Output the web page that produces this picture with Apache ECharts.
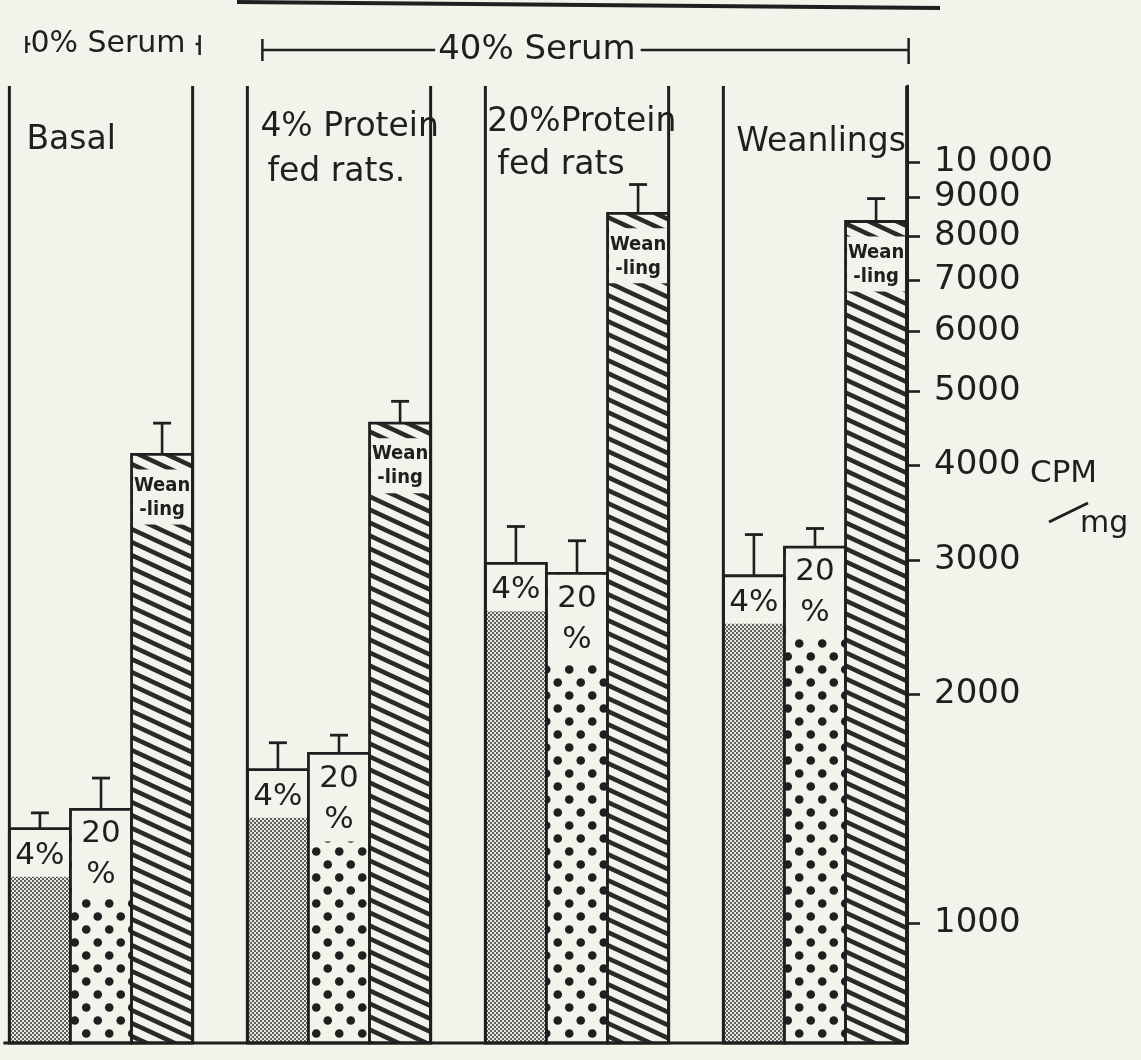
<!DOCTYPE html>
<html>
<head>
<meta charset="utf-8">
<title>CPM/mg by diet and serum</title>
<script src="https://cdn.jsdelivr.net/npm/echarts@6/dist/echarts.min.js"></script>
<style>
  html, body { margin: 0; padding: 0; background: #f3f2eb; }
  #chart { width: 1141px; height: 1060px; }
</style>
</head>
<body>
<div id="chart"></div>
<script>
// ---- data -------------------------------------------------------------
const groups = ['Basal', '4% Protein\nfed rats.', '20%Protein\nfed rats', 'Weanlings'];
const serumBrackets = ['0% Serum', '40% Serum'];

// mean CPM/mg for each diet type, one value per group
const protein4 = [1330, 1590, 2970, 2860];
const protein20 = [1410, 1670, 2880, 3120];
const weanling = [4130, 4540, 8570, 8360];

// upper error (SE) of each bar
const protein4Err = [65, 135, 350, 380];
const protein20Err = [140, 95, 300, 180];
const weanlingErr = [410, 310, 780, 600];

// captions written inside the bars
const barCaptions = [['4%'], ['20', '%'], ['Wean', '-ling']];

// right-hand axis
const tickValues = [1000, 2000, 3000, 4000, 5000, 6000, 7000, 8000, 9000, 10000];
const tickLabels = ['1000', '2000', '3000', '4000', '5000', '6000', '7000', '8000', '9000', '10 000'];
const axisTitle = ['CPM', 'mg'];

// ---- styling ----------------------------------------------------------
const INK = '#1f1f1f';
const PAPER = '#f3f2eb';
const FONT = '"DejaVu Sans", "Liberation Sans", sans-serif';
const NARROW = '"Liberation Sans Narrow", "DejaVu Sans Condensed", sans-serif';
const Y_MIN = 695;
const Y_MAX = 12600;
const X_MIN = -0.4244;   // group index range shown on the horizontal axis
const X_MAX = 3.5;
const BOX_FRAC = 0.77;   // share of one group step taken by a group's box

// label placement inside each group box (offsets from box left / box top)
const GROUP_LABEL_LAYOUT = [
  { dx: [17], dy: [54] },
  { dx: [13, 20], dy: [41, 86] },
  { dx: [2, 12], dy: [36, 79] },
  { dx: [13], dy: [56] }
];
// caption patch and text rows for each bar kind (offsets from bar top)
const CAPTION_LAYOUT = [
  { patchTop: 1, patchBottom: 48, rows: [27], font: '31px ' + FONT },
  { patchTop: 1, patchBottom: 88, rows: [25, 66], font: '31px ' + FONT },
  { patchTop: 15, patchBottom: 70, rows: [31, 55], font: 'bold 20px ' + NARROW }
];

// ---- fill patterns ----------------------------------------------------
function makePattern(w, h, bg, draw) {
  const c = document.createElement('canvas');
  c.width = w; c.height = h;
  const ctx = c.getContext('2d');
  ctx.fillStyle = bg;
  ctx.fillRect(0, 0, w, h);
  draw(ctx, w, h);
  return { image: c, repeat: 'repeat' };
}
function dot(ctx, x, y, r, color) {
  ctx.fillStyle = color;
  ctx.beginPath();
  ctx.arc(x, y, r, 0, Math.PI * 2);
  ctx.fill();
}
// fine stipple for the 4% protein bars
const stipple = makePattern(4, 4, '#e6e5de', (ctx) => {
  dot(ctx, 1, 1, 1.0, '#333');
  dot(ctx, 3, 3, 1.0, '#333');
});
// large polka dots for the 20% protein bars
const polka = makePattern(23, 26, PAPER, (ctx) => {
  dot(ctx, 5.75, 6.5, 4.3, '#1f1f1f');
  dot(ctx, 17.25, 19.5, 4.3, '#1f1f1f');
});
// diagonal hatching for the weanling bars
const hatch = makePattern(28, 13, PAPER, (ctx, w, h) => {
  ctx.strokeStyle = '#2a2a2a';
  ctx.lineWidth = 4.6;
  for (let k = -1; k <= 1; k++) {
    ctx.beginPath();
    ctx.moveTo(-w, k * h - h);
    ctx.lineTo(2 * w, k * h + 2 * h);
    ctx.stroke();
  }
});

const measureCtx = document.createElement('canvas').getContext('2d');
function textWidth(t, font) {
  measureCtx.font = font;
  return measureCtx.measureText(t).width;
}

function textEl(text, x, y, font, align, vAlign) {
  return {
    type: 'text',
    style: {
      text: text, x: x, y: y, font: font, fill: INK,
      align: align, verticalAlign: vAlign,
      textAlign: align, textVerticalAlign: vAlign
    }
  };
}
function lineEl(x1, y1, x2, y2, w) {
  return { type: 'line', shape: { x1: x1, y1: y1, x2: x2, y2: y2 }, style: { stroke: INK, lineWidth: w, lineCap: 'butt' } };
}

// geometry of a group's box, derived from the axes
function boxGeom(api, gi) {
  const step = api.size([1, 0])[0];
  const w = step * BOX_FRAC;
  const bottom = api.coord([gi, Y_MIN]);
  return {
    left: bottom[0] - w / 2,
    right: bottom[0] + w / 2,
    width: w,
    base: bottom[1],
    top: api.coord([gi, Y_MAX])[1]
  };
}

// ---- bar series -------------------------------------------------------
function barSeries(name, slot, values, errs, fill) {
  return {
    type: 'custom',
    name: name,
    z: 2,
    encode: { x: 0, y: 1 },
    data: values.map((v, i) => [i, v, errs[i]]),
    renderItem: function (params, api) {
      const gi = api.value(0);
      const v = api.value(1);
      const e = api.value(2);
      const box = boxGeom(api, gi);
      const bw = box.width / 3;
      const x0 = box.left + slot * bw;
      const cx = x0 + bw / 2;
      const top = api.coord([gi, v])[1];
      const errY = api.coord([gi, v + e])[1];
      const lay = CAPTION_LAYOUT[slot];
      const children = [
        { type: 'rect', shape: { x: x0, y: top, width: bw, height: box.base - top }, style: { fill: fill } },
        { type: 'rect', shape: { x: x0 + 1.5, y: top + lay.patchTop, width: bw - 3, height: lay.patchBottom - lay.patchTop }, style: { fill: PAPER } }
      ];
      barCaptions[slot].forEach((t, k) => {
        children.push(textEl(t, cx, top + lay.rows[k], lay.font, 'center', 'middle'));
      });
      children.push({ type: 'rect', shape: { x: x0, y: top, width: bw, height: box.base - top }, style: { fill: 'none', stroke: INK, lineWidth: 2.8 } });
      children.push(lineEl(cx, top, cx, errY, 2.6));
      children.push(lineEl(cx - 9, errY, cx + 9, errY, 2.8));
      return { type: 'group', children: children };
    }
  };
}

// ---- group frames, labels, serum brackets --------------------------------
const frameSeries = {
  type: 'custom',
  name: 'frames',
  z: 3,
  encode: { x: 0, y: 1 },
  data: groups.map((g, i) => [i, Y_MAX]),
  renderItem: function (params, api) {
    const gi = api.value(0);
    const box = boxGeom(api, gi);
    const last = boxGeom(api, groups.length - 1);
    const children = [
      lineEl(box.left, box.top, box.left, box.base, 3),
      lineEl(box.right, box.top, box.right, box.base, 3)
    ];
    const lay = GROUP_LABEL_LAYOUT[gi];
    groups[gi].split('\n').forEach((t, k) => {
      children.push(textEl(t, box.left + lay.dx[k], box.top + lay.dy[k], '33px ' + FONT, 'left', 'middle'));
    });
    if (gi === 0) {
      // common baseline under all groups
      children.push(lineEl(box.left - 6, box.base, last.right, box.base, 3));
      // 0% serum bracket over the basal group
      const y = box.top - 42;
      const L = box.left + 17;
      const R = box.right + 7;
      const f = '30px ' + FONT;
      children.push(lineEl(L, y - 8, L, y + 9, 2.5));
      children.push(lineEl(L, y, L + 4, y, 2.5));
      children.push(textEl(serumBrackets[0], L + 4, y, f, 'left', 'middle'));
      children.push(lineEl(R - 4, y, R, y, 2.5));
      children.push(lineEl(R, y - 9, R, y + 11, 2.5));
    }
    if (gi === 1) {
      // 40% serum bracket over the three fed groups
      const y = box.top - 36;
      const L = box.left + 15;
      const R = last.right + 2;
      const f = '34px ' + FONT;
      const tl = L + 0.272 * (R - L);
      const tw = textWidth(serumBrackets[1], f);
      children.push(lineEl(L, y - 11, L, y + 11, 2.5));
      children.push(lineEl(L, y, tl - 3, y, 2.5));
      children.push(textEl(serumBrackets[1], tl, y, f, 'left', 'middle'));
      children.push(lineEl(tl + tw + 5, y, R, y, 2.5));
      children.push(lineEl(R, y - 12, R, y + 14, 2.5));
    }
    return { type: 'group', children: children };
  }
};

// ---- chart --------------------------------------------------------------
const chart = echarts.init(document.getElementById('chart'));
chart.setOption({
  backgroundColor: PAPER,
  animation: false,
  grid: { left: 0, right: 207, top: 86, bottom: 17, containLabel: false },
  xAxis: {
    type: 'value',
    min: X_MIN,
    max: X_MAX,
    axisLine: { show: false },
    axisTick: { show: false },
    axisLabel: { show: false },
    splitLine: { show: false }
  },
  yAxis: {
    type: 'log',
    logBase: 10,
    min: Y_MIN,
    max: Y_MAX,
    position: 'right',
    offset: -27,
    axisLine: { show: true, onZero: false, lineStyle: { color: INK, width: 3 } },
    axisTick: { show: true, customValues: tickValues, length: 13, lineStyle: { color: INK, width: 2.6 } },
    axisLabel: {
      show: true,
      customValues: tickValues,
      margin: 27,
      color: INK,
      fontFamily: '"DejaVu Sans", sans-serif',
      fontSize: 34,
      formatter: function (v) {
        const i = tickValues.findIndex((t) => Math.abs(t - v) / t < 0.01);
        return i >= 0 ? tickLabels[i] : '';
      }
    },
    minorTick: { show: false },
    splitLine: { show: false }
  },
  series: [
    frameSeries,
    barSeries('4% protein', 0, protein4, protein4Err, stipple),
    barSeries('20% protein', 1, protein20, protein20Err, polka),
    barSeries('Weanling', 2, weanling, weanlingErr, hatch)
  ],
  graphic: [
    // rule running along the top of the figure
    { type: 'line', shape: { x1: 237, y1: 2, x2: 940, y2: 8 }, style: { stroke: INK, lineWidth: 4 } },
    // axis title: CPM / mg
    { type: 'text', x: 1030, y: 474, style: { text: axisTitle[0], font: '31px ' + FONT, fill: INK, textVerticalAlign: 'middle', verticalAlign: 'middle' } },
    { type: 'line', shape: { x1: 1049, y1: 522, x2: 1088, y2: 503 }, style: { stroke: INK, lineWidth: 3 } },
    { type: 'text', x: 1080, y: 524, style: { text: axisTitle[1], font: '30px ' + FONT, fill: INK, textVerticalAlign: 'middle', verticalAlign: 'middle' } }
  ]
});
</script>
</body>
</html>
